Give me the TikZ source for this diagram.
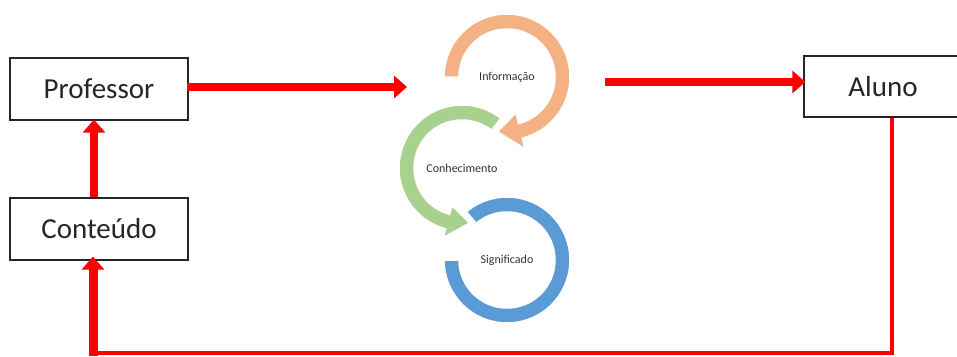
\documentclass[tikz,border=0pt]{standalone}
\usepackage{fontspec}
\setmainfont{Carlito}
\usetikzlibrary{arrows.meta}
\definecolor{corange}{HTML}{F4B183}
\definecolor{cgreen}{HTML}{A9D18E}
\definecolor{cblue}{HTML}{5B9BD5}
\definecolor{txt}{HTML}{262626}
\definecolor{ltxt}{HTML}{333333}
\definecolor{fbred}{HTML}{FF0000}
\begin{document}
\begin{tikzpicture}[x=1pt,y=1pt,
  box/.style={draw=txt, line width=1.2pt, fill=white, text=txt, inner sep=0pt,
    font=\fontsize{29}{33}\selectfont},
  lbl/.style={text=ltxt, inner sep=0pt, font=\fontsize{12}{14}\selectfont},
  redarrow/.style={draw=fbred, line width=8pt, -{Triangle[width=22pt,length=13pt]}},
  fbline/.style={draw=fbred, line width=4.5pt},
  ring/.style={draw=white, line width=1.5pt}]
\clip (0,0) rectangle (957,-356);
\fill[white] (0,0) rectangle (957,-356);

% boxes
\node[box, minimum width=178pt, minimum height=62pt] (prof) at (99,-89) {Professor};
\node[box, minimum width=178pt, minimum height=62pt] (cont) at (99,-229) {Conteúdo};
\node[box, minimum width=158pt, minimum height=61pt] (aluno) at (883,-86.5) {Aluno};

% cycle graphic
\begin{scope}[shift={(507,-260)}]
  \fill[cblue, ring] (130:63) arc[start angle=130, end angle=-180, radius=63]
    -- (180:48) arc[start angle=-180, end angle=130, radius=48] -- cycle;
\end{scope}
\begin{scope}[shift={(462,-168)}]
  \fill[cgreen, ring] (52:63) arc[start angle=52, end angle=255, radius=63]
    -- (255:72) -- (278:55.5) -- (255:39) -- (255:48)
    arc[start angle=255, end angle=52, radius=48] -- cycle;
\end{scope}
\begin{scope}[shift={(507,-77)}]
  \fill[corange, ring] (180:63) arc[start angle=180, end angle=-76, radius=63]
    -- (-76:74) -- (-100:55.5) -- (-76:37) -- (-76:48)
    arc[start angle=-76, end angle=180, radius=48] -- cycle;
\end{scope}
\node[lbl] (info) at (507,-77) {Informação};
\node[lbl] (conh) at (462,-168) {Conhecimento};
\node[lbl] (sig) at (507,-260) {Significado};

% connectors
\coordinate (cycin) at (407,-87);
\coordinate (cycout) at (605,-82);
\coordinate (fbr) at (892,-353);
\coordinate (fbl) at (93,-353);
\draw[redarrow] ([xshift=-2pt]prof.east |- cycin) -- (cycin);
\draw[redarrow] (cycout) -- ([xshift=2pt]aluno.west |- cycout);
\draw[redarrow] ([xshift=-5pt]cont.north) -- ([xshift=-5pt,yshift=1pt]prof.south);
\draw[fbline] ([xshift=9pt]aluno.south) -- (fbr) -- (fbl);
\draw[redarrow, line width=9pt] ([yshift=-3pt]fbl) -- ([xshift=-6pt,yshift=4pt]cont.south);
\end{tikzpicture}
\end{document}
